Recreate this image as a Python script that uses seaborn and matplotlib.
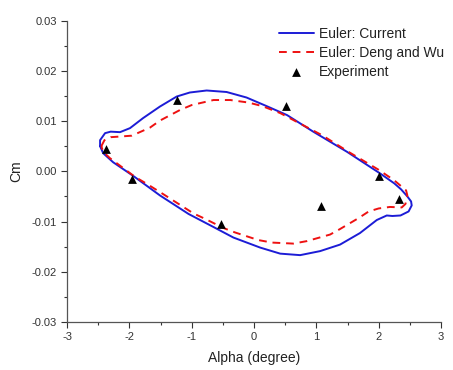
import matplotlib
matplotlib.use("Agg")
import matplotlib.pyplot as plt
import seaborn as sns
import pandas as pd
import numpy as np
from matplotlib.ticker import MultipleLocator, FormatStrFormatter

cur_alpha = [-2.47, -2.47, -2.39, -2.30, -2.15, -1.99, -1.78, -1.51, -1.24, -1.03, -0.76, -0.44,
             -0.12, 0.20, 0.53, 0.95, 1.49, 2.02, 2.25, 2.36, 2.46, 2.52, 2.53, 2.48, 2.35, 2.22,
             2.13, 1.97, 1.70, 1.38, 1.06, 0.74, 0.42, 0.10, -0.33, -0.65, -1.05, -1.51, -1.94,
             -2.26, -2.42, -2.47]
cur_cm = [0.0050, 0.0062, 0.0076, 0.0079, 0.0078, 0.0086, 0.0106, 0.0129, 0.0149, 0.0157, 0.0161,
          0.0158, 0.0147, 0.0130, 0.0112, 0.0079, 0.0039, -0.0004, -0.0024, -0.0036, -0.0050,
          -0.0060, -0.0068, -0.0080, -0.0088, -0.0089, -0.0088, -0.0097, -0.0123, -0.0146, -0.0159,
          -0.0167, -0.0164, -0.0152, -0.0132, -0.0111, -0.0085, -0.0048, -0.0009, 0.0018, 0.0036,
          0.0050]

dw_alpha = [-2.45, -2.40, -2.30, -2.18, -1.96, -1.67, -1.51, -1.19, -1.00, -0.65, -0.38, -0.09,
            0.13, 0.42, 1.09, 1.54, 2.00, 2.25, 2.44, 2.46, 2.43, 2.37, 2.18, 2.00, 1.84, 1.68,
            1.38, 1.22, 0.85, 0.63, 0.29, 0.07, -0.30, -0.49, -0.78, -0.97, -1.45, -1.72, -1.91,
            -2.31, -2.42, -2.45]
dw_cm = [0.0050, 0.0062, 0.0068, 0.0069, 0.0071, 0.0087, 0.0101, 0.0122, 0.0132, 0.0142, 0.0142,
         0.0137, 0.0130, 0.0116, 0.0072, 0.0037, 0.0003, -0.0018, -0.0038, -0.0048, -0.0065,
         -0.0072, -0.0071, -0.0074, -0.0080, -0.0093, -0.0115, -0.0126, -0.0139, -0.0144, -0.0142,
         -0.0137, -0.0122, -0.0113, -0.0095, -0.0084, -0.0046, -0.0025, -0.0011, 0.0026, 0.0039,
         0.0050]

# Experiment
exp_alpha = [-2.37, -1.96, -1.23, -0.53, 0.52, 1.07, 2.01, 2.33]
exp_cm = [0.0045, -0.0015, 0.0142, -0.0105, 0.0130, -0.0069, -0.0009, -0.0055]

sns.set_style("ticks")
plt.rcParams['font.family'] = ['Liberation Sans', 'DejaVu Sans']

fig = plt.figure(figsize=(4.53, 3.70), dpi=100)
ax = fig.add_axes([0.148, 0.130, 0.9735 - 0.148, 0.944 - 0.130])

df_cur = pd.DataFrame({"alpha": cur_alpha, "cm": cur_cm})
df_dw = pd.DataFrame({"alpha": dw_alpha, "cm": dw_cm})
df_exp = pd.DataFrame({"alpha": exp_alpha, "cm": exp_cm})

sns.lineplot(data=df_cur, x="alpha", y="cm", sort=False, estimator=None, ax=ax,
             color="#1c1cd6", linewidth=1.4, label="Euler: Current")
sns.lineplot(data=df_dw, x="alpha", y="cm", sort=False, estimator=None, ax=ax,
             color="#ee1111", linewidth=1.4, dashes=False, label="Euler: Deng and Wu")
ax.lines[-1].set_linestyle((0, (4, 3)))
sns.scatterplot(data=df_exp, x="alpha", y="cm", ax=ax, marker="^", color="black",
                s=40, edgecolor="black", linewidth=0, label="Experiment", zorder=5)

ax.set_xlim(-3, 3)
ax.set_ylim(-0.03, 0.03)
ax.xaxis.set_major_locator(MultipleLocator(1))
ax.xaxis.set_minor_locator(MultipleLocator(0.5))
ax.yaxis.set_major_locator(MultipleLocator(0.01))
ax.yaxis.set_minor_locator(MultipleLocator(0.005))
ax.yaxis.set_major_formatter(FormatStrFormatter('%.2f'))
ax.xaxis.set_major_formatter(FormatStrFormatter('%d'))
ax.tick_params(axis='both', which='major', direction='out', length=4, width=0.8,
               labelsize=8, colors='#333333', labelcolor='#333333')
ax.tick_params(axis='both', which='minor', direction='out', length=2.5, width=0.8, colors='#333333')
for s in ['left', 'bottom']:
    ax.spines[s].set_color('#555555')
    ax.spines[s].set_linewidth(0.9)
sns.despine(ax=ax)

ax.set_xlabel("Alpha (degree)", fontsize=10, color='#222222', labelpad=6)
ax.set_ylabel("Cm", fontsize=10, color='#222222', labelpad=6)

leg = ax.legend(loc='upper left', bbox_to_anchor=(0.567, 0.978), frameon=False, fontsize=10,
                handlelength=2.5, handletextpad=0.4, borderpad=0, borderaxespad=0,
                labelspacing=0.33)
for t in leg.get_texts():
    t.set_color('#222222')

fig.savefig("out.png", dpi=100)
